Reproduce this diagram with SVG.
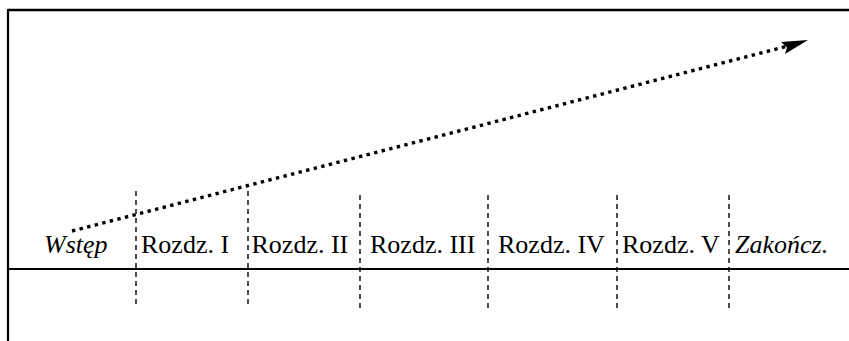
<svg xmlns="http://www.w3.org/2000/svg" width="849" height="341" viewBox="0 0 849 341">
<style>
.lbl{font-size:26px;fill:#000}
.it{font-style:italic}
.div{stroke:#000;stroke-width:1.4;stroke-dasharray:5 4;fill:none}
.frame{stroke:#000;fill:none}
</style>
<rect width="849" height="341" fill="#fff"/>
<g id="frame">
<line class="frame" x1="8" y1="10" x2="849" y2="10" stroke-width="2.4"/>
<line class="frame" x1="8" y1="9" x2="8" y2="341" stroke-width="2.2"/>
<line class="frame" x1="8" y1="269" x2="849" y2="269" stroke-width="1.8"/>
</g>
<g id="connectors">
<line class="div" x1="136" y1="191" x2="136" y2="308"/>
<line class="div" x1="248" y1="191" x2="248" y2="308"/>
<line class="div" x1="360" y1="195" x2="360" y2="312"/>
<line class="div" x1="488" y1="195" x2="488" y2="312"/>
<line class="div" x1="617" y1="195" x2="617" y2="312"/>
<line class="div" x1="729" y1="195" x2="729" y2="312"/>
<line x1="72" y1="231" x2="788" y2="46" stroke="#000" stroke-width="3.4" stroke-dasharray="3.4 4.4"/>
<polygon points="808,40 781,42 787,47.5 785,54" fill="#000"/>
</g>
<g font-family="Liberation Serif, Times New Roman, serif">
<g id="n-wstep"><text class="lbl it" x="44" y="253">Wstęp</text></g>
<g id="n-r1"><text class="lbl" x="141" y="253">Rozdz. I</text></g>
<g id="n-r2"><text class="lbl" x="251.5" y="253">Rozdz. II</text></g>
<g id="n-r3"><text class="lbl" x="370" y="253">Rozdz. III</text></g>
<g id="n-r4"><text class="lbl" x="498" y="253">Rozdz. IV</text></g>
<g id="n-r5"><text class="lbl" x="622" y="253">Rozdz. V</text></g>
<g id="n-zak"><text class="lbl it" x="735" y="253">Zakończ.</text></g>
</g>
</svg>
